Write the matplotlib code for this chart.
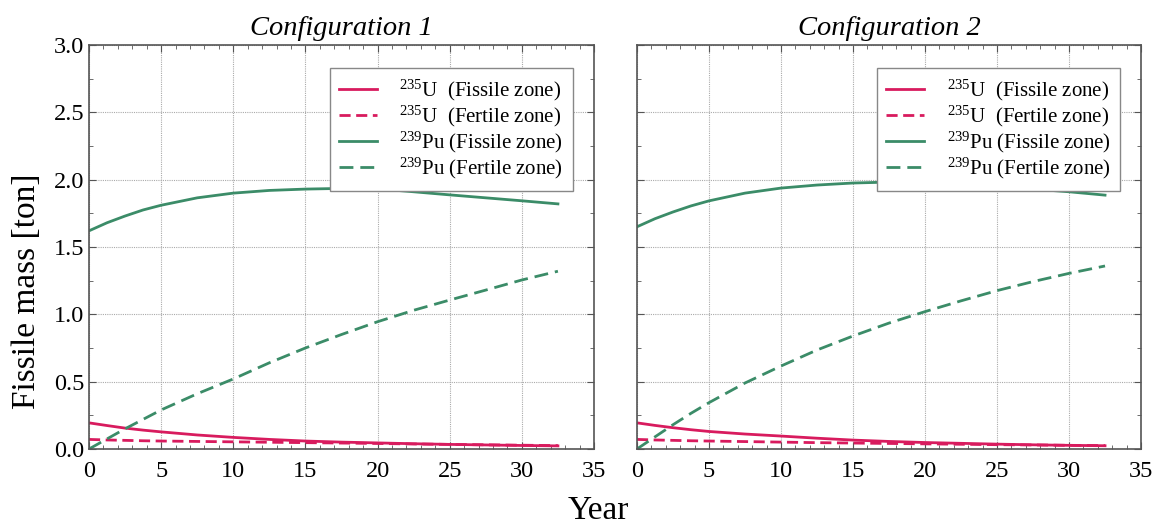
import numpy as np
import matplotlib
matplotlib.use('Agg')
import matplotlib.pyplot as plt
from matplotlib.ticker import MultipleLocator, FormatStrFormatter

plt.rcParams['font.family'] = 'Liberation Serif'
plt.rcParams['mathtext.fontset'] = 'custom'
plt.rcParams['mathtext.rm'] = 'Liberation Serif'
plt.rcParams['mathtext.it'] = 'Liberation Serif:italic'

# Time axis (years)
years = [0, 1.25, 2.5, 3.75, 5, 7.5, 10, 12.5, 15, 17.5, 20, 22.5, 25, 27.5, 30, 32.5]

# Configuration 1 masses [ton]
u235_fis_1 = [0.194, 0.174, 0.155, 0.140, 0.127, 0.104, 0.086, 0.071, 0.059, 0.051, 0.045, 0.039, 0.034, 0.030, 0.026, 0.023]
u235_fer_1 = [0.071, 0.067, 0.064, 0.061, 0.059, 0.056, 0.053, 0.050, 0.047, 0.044, 0.041, 0.037, 0.034, 0.031, 0.028, 0.025]
pu239_fis_1 = [1.62, 1.68, 1.73, 1.775, 1.81, 1.865, 1.90, 1.92, 1.93, 1.935, 1.932, 1.91, 1.887, 1.865, 1.843, 1.82]
pu239_fer_1 = [0.0, 0.075, 0.15, 0.22, 0.29, 0.41, 0.52, 0.64, 0.75, 0.85, 0.945, 1.03, 1.106, 1.18, 1.255, 1.32]

# Configuration 2 masses [ton]
u235_fis_2 = [0.194, 0.175, 0.158, 0.143, 0.130, 0.111, 0.096, 0.080, 0.066, 0.056, 0.048, 0.042, 0.036, 0.031, 0.027, 0.024]
u235_fer_2 = [0.071, 0.067, 0.064, 0.061, 0.059, 0.055, 0.051, 0.047, 0.044, 0.041, 0.038, 0.035, 0.032, 0.030, 0.027, 0.025]
pu239_fis_2 = [1.65, 1.71, 1.76, 1.805, 1.8425, 1.90, 1.9375, 1.96, 1.975, 1.982, 1.9825, 1.967, 1.95, 1.93, 1.91, 1.885]
pu239_fer_2 = [0.0, 0.09, 0.18, 0.265, 0.344, 0.49, 0.616, 0.735, 0.839, 0.935, 1.02, 1.10, 1.176, 1.243, 1.304, 1.359]

titles = ['Configuration 1', 'Configuration 2']
labels = [r'$^{235}$U  (Fissile zone)', r'$^{235}$U  (Fertile zone)',
          r'$^{239}$Pu (Fissile zone)', r'$^{239}$Pu (Fertile zone)']
data = [[u235_fis_1, u235_fer_1, pu239_fis_1, pu239_fer_1],
        [u235_fis_2, u235_fer_2, pu239_fis_2, pu239_fer_2]]

red = '#d81b5e'
green = '#3b8c68'
styles = [(red, '-'), (red, (0, (4, 2))), (green, '-'), (green, (0, (5, 2.5)))]

fig = plt.figure(figsize=(11.59, 5.25), dpi=100)
ax1 = fig.add_axes([0.0768, 0.1448, 0.4357, 0.7695])
ax2 = fig.add_axes([0.5496, 0.1448, 0.4349, 0.7695])

for ax, title, series in zip([ax1, ax2], titles, data):
    for vals, label, (col, ls) in zip(series, labels, styles):
        ax.plot(years, vals, color=col, linestyle=ls, linewidth=2.0, label=label)
    ax.set_xlim(0, 35)
    ax.set_ylim(0, 3.0)
    ax.xaxis.set_major_locator(MultipleLocator(5))
    ax.xaxis.set_minor_locator(MultipleLocator(1))
    ax.yaxis.set_major_locator(MultipleLocator(0.5))
    ax.yaxis.set_minor_locator(MultipleLocator(0.25))
    ax.yaxis.set_major_formatter(FormatStrFormatter('%.1f'))
    ax.tick_params(which='both', direction='in', top=True, right=True,
                   color='#555555', labelsize=17.5)
    ax.tick_params(which='major', length=5)
    ax.tick_params(which='minor', length=3)
    ax.tick_params(axis='x', pad=9)
    ax.grid(True, which='major', color='#aaaaaa', linestyle=(0, (1, 1)), linewidth=0.8)
    for s in ax.spines.values():
        s.set_color('#555555')
        s.set_linewidth(1.2)
    ax.set_title(title, fontsize=20.5, style='italic', pad=7)
    leg = ax.legend(loc='upper right', bbox_to_anchor=(0.958, 0.943), borderaxespad=0,
                    fontsize=15, handlelength=1.8, handletextpad=1.1,
                    labelspacing=0.05, borderpad=0.45, fancybox=False, framealpha=1)
    leg.get_frame().set_edgecolor('#888888')
    leg.get_frame().set_linewidth(1.0)

ax2.tick_params(axis='y', labelleft=False)
ax1.set_ylabel('Fissile mass [ton]', fontsize=24)
ax1.yaxis.set_label_coords(-0.093, 0.39)
fig.text(0.516, 0.012, 'Year', fontsize=24, ha='center', va='baseline')

fig.savefig('out.png', dpi=100)
